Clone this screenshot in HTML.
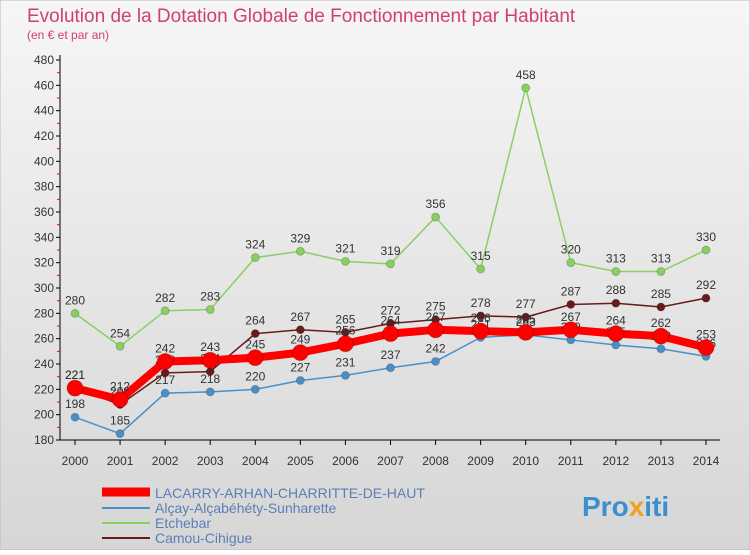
<!DOCTYPE html>
<html><head><meta charset="utf-8"><style>
body{margin:0;width:750px;height:550px;overflow:hidden;font-family:"Liberation Sans",sans-serif}
svg text{font-family:"Liberation Sans",sans-serif}
</style></head><body>
<svg id="c" width="750" height="550">
<defs><linearGradient id="bg" x1="0" y1="0" x2="0" y2="1"><stop offset="0" stop-color="#f6f6f6"/><stop offset="1" stop-color="#d6d6d6"/></linearGradient></defs>
<rect x="0" y="0" width="750" height="550" fill="url(#bg)" stroke="#bbb"/>
<text x="27" y="22" font-size="19" fill="#d0406e">Evolution de la Dotation Globale de Fonctionnement par Habitant</text>
<text x="27" y="39" font-size="12" fill="#d0406e">(en € et par an)</text>
<g id="axes"></g><g id="series"></g>
<g>
<line x1="102" y1="492" x2="150" y2="492" stroke="#f00" stroke-width="9"/>
<text x="155" y="498" font-size="14" fill="#5a7fb5">LACARRY-ARHAN-CHARRITTE-DE-HAUT</text>
<line x1="102" y1="508" x2="150" y2="508" stroke="#4a90c8" stroke-width="2"/>
<text x="155" y="513" font-size="14" fill="#5a7fb5">Alçay-Alçabéhéty-Sunharette</text>
<line x1="102" y1="523" x2="150" y2="523" stroke="#88d060" stroke-width="2"/>
<text x="155" y="528" font-size="14" fill="#5a7fb5">Etchebar</text>
<line x1="102" y1="538" x2="150" y2="538" stroke="#6b1a1a" stroke-width="2"/>
<text x="155" y="543" font-size="14" fill="#5a7fb5">Camou-Cihigue</text>
</g>
<text x="582" y="516" font-size="28" font-weight="bold" fill="#3a8fd0">Pro<tspan fill="#f0a020">x</tspan>iti</text>
</svg>
<script>
const years=[2000,2001,2002,2003,2004,2005,2006,2007,2008,2009,2010,2011,2012,2013,2014];
const lacarry=[221,212,242,243,245,249,256,264,267,266,265,267,264,262,253];
const alcay=[198,185,217,218,220,227,231,237,242,261,263,259,255,252,246];
const etchebar=[280,254,282,283,324,329,321,319,356,315,458,320,313,313,330];
const camou=[221,208,233,234,264,267,265,272,275,278,277,287,288,285,292];
const yTicks=[180,200,220,240,260,280,300,320,340,360,380,400,420,440,460,480];
const NS="http://www.w3.org/2000/svg";
const xs=i=>75+i*(706-75)/(years.length-1);
const ys=v=>440-(v-180)*(380/300);
function mk(p,t,a){const e=document.createElementNS(NS,t);for(const k in a)e.setAttribute(k,a[k]);p.appendChild(e);return e;}
const ax=document.getElementById('axes');
const yl=mk(ax,'line',{x1:60,y1:55,x2:60,y2:440,stroke:'#000'});


const xl=mk(ax,'line',{x1:60,y1:440,x2:720,y2:440,stroke:'#000'});


yTicks.forEach((v,k)=>{const y=ys(v);
mk(ax,'line',{x1:56,y1:y,x2:60,y2:y,stroke:'#000'});
if(k>0)mk(ax,'line',{x1:57,y1:y+12.7,x2:60,y2:y+12.7,stroke:'#f00'});
const t=mk(ax,'text',{x:54,y:y+4,'font-size':12,fill:'#333','text-anchor':'end'});t.textContent=v;

});
years.forEach((yr,i)=>{const x=xs(i);
mk(ax,'line',{x1:x,y1:440,x2:x,y2:445,stroke:'#000'});
const t=mk(ax,'text',{x:x,y:465,'font-size':12,fill:'#333','text-anchor':'middle'});t.textContent=yr;

});
const sg=document.getElementById('series');
function draw(name,data,col,w,r){
const g=mk(sg,'g',{});


mk(g,'polyline',{points:data.map((v,i)=>xs(i)+','+ys(v)).join(' '),fill:'none',stroke:col,'stroke-width':w,'stroke-linejoin':'round'});
data.forEach((v,i)=>{const c=mk(g,'circle',{cx:xs(i),cy:ys(v),r:r,fill:col,stroke:'rgba(0,0,0,0.2)'});


const t=mk(g,'text',{x:xs(i),y:ys(v)-9,'font-size':12,fill:'#333','text-anchor':'middle'});t.textContent=v;});}
draw('series-etchebar',etchebar,'#88d060',1.5,4);
draw('series-alcay',alcay,'#4a90c8',1.5,4);
draw('series-camou',camou,'#6b1a1a',1.5,4);
draw('series-lacarry',lacarry,'#f00',8,8);
</script>
</body></html>
